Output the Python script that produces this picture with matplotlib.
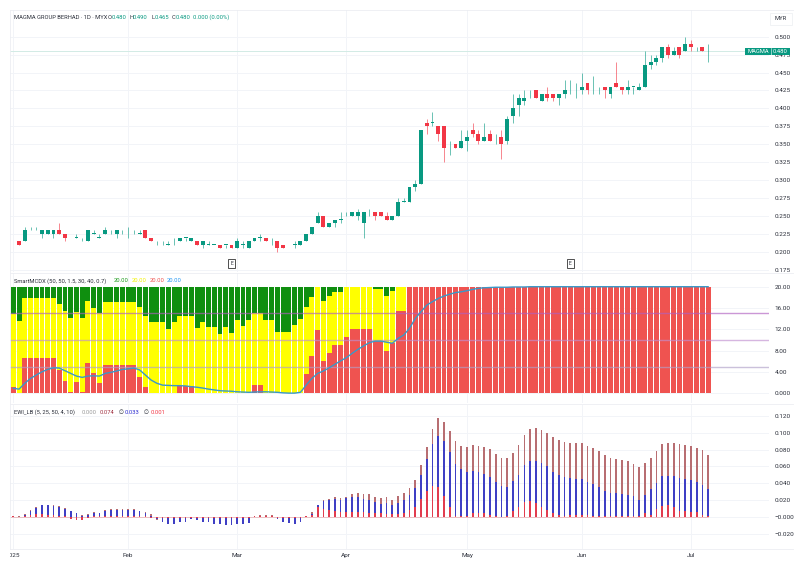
import matplotlib
matplotlib.use('Agg')
import matplotlib.pyplot as plt
from matplotlib.patches import Rectangle
from matplotlib.transforms import Bbox

plt.rcParams['font.family'] = ['Roboto', 'DejaVu Sans']

# === candles ===
opens = [.215,.215,.215,.23,.23,.225,.225,.225,.23,.225,
         .215,.22,.215,.215,.225,.22,.225,.23,.225,.23,
         .23,.23,.225,.23,.22,.215,.215,.21,.215,.215,
         .22,.215,.215,.21,.21,.21,.21,.21,.21,.205,
         .21,.205,.215,.22,.22,.215,.215,.21,.205,.21,
         .21,.215,.225,.24,.25,.235,.24,.245,.25,.25,
         .25,.24,.255,.255,.255,.25,.245,.25,.27,.27,
         .29,.295,.38,.38,.375,.375,.35,.35,.345,.355,
         .37,.365,.355,.365,.36,.36,.355,.39,.405,.41,
         .42,.425,.41,.42,.42,.415,.42,.425,.425,.425,
         .435,.425,.425,.43,.42,.435,.43,.425,.43,.425,
         .43,.46,.465,.47,.485,.475,.485,.48,.49,.485,
         .485,.48]
highs = [.215,.215,.235,.235,.235,.23,.23,.23,.24,.225,
         .215,.225,.22,.23,.23,.225,.235,.23,.23,.23,
         .235,.23,.23,.23,.22,.215,.215,.215,.22,.22,
         .22,.22,.215,.215,.215,.21,.21,.21,.21,.22,
         .215,.215,.22,.225,.22,.22,.215,.21,.205,.215,
         .215,.225,.235,.255,.25,.24,.245,.255,.255,.255,
         .26,.255,.26,.255,.255,.255,.25,.275,.275,.29,
         .30,.37,.385,.395,.375,.375,.355,.35,.37,.37,
         .38,.37,.38,.37,.365,.37,.39,.42,.42,.425,
         .425,.425,.42,.43,.42,.42,.44,.44,.435,.45,
         .435,.445,.43,.43,.43,.465,.43,.44,.43,.435,
         .48,.475,.475,.485,.49,.485,.485,.50,.495,.485,
         .485,.49]
lows = [.215,.21,.215,.23,.23,.22,.225,.22,.225,.215,
        .215,.22,.215,.215,.225,.22,.225,.225,.22,.225,
        .22,.225,.225,.22,.215,.21,.21,.21,.21,.215,
        .215,.215,.21,.205,.21,.21,.205,.205,.205,.205,
        .205,.205,.215,.215,.215,.21,.2,.205,.205,.205,
        .21,.215,.225,.24,.235,.235,.235,.24,.25,.25,
        .245,.22,.25,.245,.25,.245,.245,.25,.27,.27,
        .285,.295,.365,.375,.355,.325,.335,.345,.345,.34,
        .36,.35,.355,.355,.35,.33,.35,.38,.39,.405,
        .415,.415,.41,.41,.41,.405,.415,.42,.415,.42,
        .42,.42,.42,.415,.415,.43,.42,.42,.42,.425,
        .43,.455,.46,.465,.47,.475,.47,.48,.48,.48,
        .48,.465]
closes = [.215,.21,.23,.23,.23,.23,.23,.23,.225,.22,
          .215,.22,.215,.23,.225,.22,.23,.23,.23,.23,
          .23,.23,.225,.22,.215,.215,.215,.21,.215,.22,
          .22,.22,.21,.215,.21,.21,.205,.21,.205,.215,
          .21,.215,.22,.22,.215,.215,.205,.205,.205,.21,
          .215,.225,.235,.25,.235,.24,.245,.245,.25,.255,
          .255,.255,.255,.25,.25,.245,.25,.27,.27,.29,
          .295,.37,.375,.38,.365,.345,.35,.345,.355,.36,
          .365,.355,.36,.355,.36,.35,.385,.40,.415,.415,
          .42,.415,.42,.415,.415,.42,.425,.425,.425,.43,
          .425,.425,.425,.425,.43,.43,.425,.43,.43,.43,
          .46,.465,.47,.485,.475,.48,.475,.49,.485,.485,
          .48,.48]

# === SmartMCDX ===
mcdx_green = [5.1,6.4,2.05,2.05,2.05,2.05,2.05,2.05,3.3,4.55,
              5.95,4.7,5.95,2.7,3.9,5,2.95,2.95,2.95,2.95,
              2.95,2.95,3.75,5.4,6.6,6.6,6.6,7.9,6.6,5.4,
              5.4,5.4,7.75,6.55,7.6,7.6,8.8,7.6,8.6,6.25,
              7.4,6.25,5,5,6.25,6.25,8.5,8.5,8.5,7.2,
              6.05,3.75,1.9,0,2.6,1.7,.95,.95,.1,0,
              0,0,0,.5,.5,1.75,.75,0,0] + [0] * 53
mcdx_red = [1.25,.1,6.7,6.7,6.7,6.7,6.7,6.7,4.4,2.3,
            .25,2.2,.25,5.75,3.75,1.9,5.25,5.25,5.25,5.25,
            5.25,5.25,3.1,1.25,0,0,0,0,0,1.45,
            1.45,1.45,0,0,0,0,0,0,0,0,
            0,0,1.55,1.55,0,0,0,0,0,0,
            0,3.6,7.1,11.9,6.1,7.6,9.1,9.1,10.55,12.05,
            12.05,12.05,12.05,9.8,9.8,7.9,9.5,15.4,15.4] + [20] * 53
mcdx_line = [.95,.8,1.9,2.8,3.45,4.05,4.5,4.8,4.75,4.25,
             3.75,3.25,3,3.25,3.3,3.25,3.75,3.95,4.2,4.5,
             4.6,4.75,4.4,3.45,2.5,1.9,1.55,1.5,1.45,1.45,
             1.4,1.25,1.15,1,.8,.65,.5,.45,.4,.3,
             .25,.2,.25,.3,.3,.25,.2,.1,.05,.05,
             .2,1.55,2.8,3.75,4.2,4.8,5.45,6.1,6.7,7.5,
             8.25,8.9,9.5,9.8,9.8,9.6,9.4,10.3,10.95,12.2,
             14.05,15.3,16.55,17.2,17.8,18.25,18.6,18.9,19.05,19.25,
             19.5,19.7,19.8,19.85,19.9,19.9,19.9,19.95,19.95,19.95] + [20] * 32
mcdx_levels = [15, 10, 5]
mcdx_ticks = [0, 4, 8, 12, 16, 20]
mcdx_tick_labels = ['0.000', '4.00', '8.00', '12.00', '16.00', '20.00']

# === EWI_LB ===
ewi_total = [.002,.001,.004,.009,.012,.015,.015,.014,.013,.011,
             .007,.0055,.003,.0035,.006,.0055,.009,.0095,.0095,.010,
             .01,.0095,.008,.0065,.004,-.003,-.006,-.008,-.008,-.006,
             -.005,-.0025,-.003,-.005,-.006,-.0075,-.008,-.009,-.009,-.008,
             -.0075,-.0065,.002,.003,.003,.003,-.002,-.005,-.007,-.008,
             -.006,.002,.006,.0145,.02,.022,.0235,.0225,.0245,.027,
             .029,.027,.027,.0245,.023,.0235,.021,.025,.0285,.035,
             .0445,.062,.0835,.104,.117,.113,.102,.09,.0845,.0835,
             .0855,.0845,.083,.081,.075,.0705,.0695,.0765,.0855,.097,
             .104,.105,.103,.1,.095,.091,.0895,.088,.0875,.088,
             .084,.0815,.0785,.073,.07,.069,.0675,.0665,.0635,.0595,
             .064,.0705,.078,.0865,.088,.088,.086,.0855,.084,.0815,
             .08,.0735]
ewi_blue = [.001,.0,.003,.008,.011,.014,.014,.013,.012,.01,
            .007,.005,.002,.003,.005,.005,.008,.009,.009,.009,
            .009,.009,.007,.005,.002,-.002,-.005,-.008,-.008,-.006,
            -.005,-.002,-.003,-.005,-.006,-.0075,-.008,-.009,-.009,-.008,
            -.0075,-.0065,.001,.002,.002,.002,-.002,-.005,-.007,-.008,
            -.006,.001,.004,.014,.019,.021,.022,.021,.023,.024,
            .024,.022,.021,.018,.016,.017,.015,.017,.0205,.0265,
            .035,.05,.069,.087,.0965,.09,.0775,.063,.0565,.0535,
            .055,.053,.051,.048,.042,.037,.036,.0425,.0505,.062,
            .067,.067,.064,.06,.0535,.05,.0475,.0465,.045,.045,
            .042,.0395,.036,.0305,.0285,.029,.028,.0265,.025,.021,
            .0265,.0335,.04,.0485,.049,.049,.0465,.045,.0435,.0415,
            .0385,.033]
ewi_red = [.001,.0,.001,.003,.004,.004,.003,.003,.002,.002,
           -.002,-.003,-.003,-.001,.001,.001,.002,.002,.002,.002,
           .002,.002,.001,.001,-.001,-.001,-.001,-.001,-.001,-.001,
           -.001,-.001,-.001,-.001,-.001,-.001,-.001,-.001,-.001,-.001,
           -.001,-.001,.001,.001,.001,.001,-.001,-.001,-.001,-.001,
           -.001,.001,.003,.012,.01,.009,.008,.006,.006,.006,
           .006,.006,.005,.005,.005,.004,.004,.004,.005,.0085,
           .0125,.0215,.0315,.037,.036,.025,.0125,.0015,.001,.001,
           .005,.005,.005,.003,.001,0,.001,.008,.0125,.0185,
           .0195,.017,.012,.0085,.0055,.003,.0015,.003,.003,.003,
           .003,.001,.001,.001,.001,.001,.001,.002,.001,.001,
           .005,.003,.0095,.0135,.0145,.012,.008,.0075,.006,.006,
           .003,.001]
ewi_ticks = [-.02, 0, .02, .04, .06, .08, .10, .12]
ewi_tick_labels = ['\u22120.020', '\u22120.000', '0.020', '0.040', '0.060', '0.080', '0.100', '0.120']

price_ticks = [.175, .2, .225, .25, .275, .3, .325, .35, .375, .4, .425, .45, .475, .5]
month_pos = [0, 20, 39, 58, 79, 99, 118]
month_names = ['2025', 'Feb', 'Mar', 'Apr', 'May', 'Jun', 'Jul']
earnings_pos = [38, 97]
last_price = 0.48

W, H = 797, 564
UP = '#089981'
DOWN = '#f23645'
GRID = '#f2f4f8'
TXT = '#2a2e39'
FS = 4.6
LEG = 4.15
bars = list(range(len(closes)))


def panel(top, bottom, left=10, right=769):
    return fig.add_axes([left / W, 1 - bottom / H, (right - left) / W, (bottom - top) / H])


def label(x, y, s, color=TXT, fs=LEG, **kw):
    fig.text(x / W, 1 - y / H, s, color=color, fontsize=fs, va='center', **kw)


fig = plt.figure(figsize=(W / 100, H / 100), dpi=100, facecolor='white')
ax1 = panel(10, 272)
ax2 = panel(273, 403)
ax3 = panel(405, 549)

for ax in (ax1, ax2, ax3):
    ax.set_xlim(-0.574, 131.6)
    ax.set_xticks(month_pos)
    ax.yaxis.tick_right()
    ax.grid(True, color=GRID, linewidth=0.7)
    ax.set_axisbelow(True)
    ax.tick_params(length=0, labelsize=FS, labelcolor=TXT, pad=4)
    ax.tick_params(axis='x', labelbottom=False)
    for s in ax.spines.values():
        s.set_visible(False)

# === candles ===
ax1.set_ylim(.1719, .5372)
ax1.set_yticks(price_ticks)
ax1.set_yticklabels([f'{p:.3f}' for p in price_ticks])
ax1.axhline(last_price, color='#d2ebe5', linewidth=0.7, zorder=1)
colors = [UP if c >= o else DOWN for o, c in zip(opens, closes)]
ax1.vlines(bars, lows, highs, colors=colors, linewidth=0.6, alpha=0.7, zorder=2)
ax1.bar(bars, [max(abs(c - o), .0006) for o, c in zip(opens, closes)],
        bottom=[min(o, c) for o, c in zip(opens, closes)],
        width=0.68, color=colors, linewidth=0, zorder=3)
for e in earnings_pos:
    ax1.text(e, .1835, 'E', fontsize=3.6, color=TXT, ha='center', va='center', zorder=5,
             bbox=dict(boxstyle='square,pad=0.45', fc='white', ec='#333333', lw=0.6))

# === SmartMCDX ===
ax2.set_ylim(-1.8, 22.57)
ax2.set_yticks(mcdx_ticks)
ax2.set_yticklabels(mcdx_tick_labels)
green_low = [20 - g for g in mcdx_green]
ax2.bar(bars, [g - r for g, r in zip(green_low, mcdx_red)], bottom=mcdx_red, width=0.86,
        color='#ffff00', linewidth=0, zorder=2)
ax2.bar(bars, mcdx_green, bottom=green_low, width=0.86, color='#0f8f0f', linewidth=0, zorder=3)
ax2.bar(bars, mcdx_red, width=0.86, color='#ef5350', linewidth=0, zorder=3)
for lev, col in zip(mcdx_levels, ['#b060c0', '#c090d0', '#b0a0c8']):
    ax2.axhline(lev, color=col, alpha=0.65, linewidth=1.0, zorder=4)
ax2.plot(bars, mcdx_line, color='#3a98c8', linewidth=1.0, zorder=5)

# === EWI_LB ===
ax3.set_ylim(-.0374, .1326)
ax3.set_yticks(ewi_ticks)
ax3.set_yticklabels(ewi_tick_labels)
ax3.set_xticklabels(month_names)
ax3.tick_params(axis='x', labelbottom=True, pad=3)
ax3.bar(bars, ewi_total, width=0.3, color='#b86e72', linewidth=0, zorder=2)
ax3.bar(bars, ewi_blue, width=0.3, color='#3f3fc4', linewidth=0, zorder=3)
ax3.bar(bars, ewi_red, width=0.3, color='#e23b4e', linewidth=0, zorder=4)
ax3.axhline(0, color='#e8b8bc', linewidth=0.6, zorder=1, xmax=0.92)
first_label = ax3.get_xticklabels()[0]
first_label.set_clip_on(True)
first_label.set_clip_box(Bbox([[10, 0], [W, H]]))

# === panel borders ===
for y in (10, 272.5, 404, 549):
    fig.add_artist(plt.Line2D([10 / W, 793 / W], [1 - y / H] * 2, color='#eceef2', linewidth=0.6))
fig.add_artist(plt.Line2D([10 / W, 10 / W], [1 - 10 / H, 1 - 549 / H], color='#eceef2', linewidth=0.6))

# === legends ===
label(13.5, 17.5, 'MAGMA GROUP BERHAD \u00b7 1D \u00b7 MYX')
for x, s, c in [(108, 'O', TXT), (112, '0.480', UP), (129, 'H', TXT), (133, '0.490', UP),
                (151, 'L', TXT), (154.5, '0.465', UP), (172, 'C', TXT), (176, '0.480', UP),
                (193, '0.000 (0.00%)', UP)]:
    label(x, 17.5, s, c)
label(13.5, 280.7, 'SmartMCDX (50, 50, 1.5, 30, 40, 0.7)')
for x, s, c in [(114, '20.00', '#1a9a1a'), (132, '20.00', '#f2f200'), (150, '20.00', '#ef5350'),
                (167, '20.00', '#2196f3')]:
    label(x, 280.7, s, c)
label(14, 412, 'EWI_LB (5, 25, 50, 4, 10)')
for x, s, c in [(82, '0.000', '#999999'), (100, '0.074', '#a03040'), (119, '\u2205', TXT),
                (125, '0.033', '#2a2ad0'), (144, '\u2205', TXT), (151, '0.001', '#f23645')]:
    label(x, 412, s, c)

# === price tag and currency ===
fig.add_artist(Rectangle((745 / W, 1 - 55.2 / H), 44.5 / W, 7.6 / H, transform=fig.transFigure,
                         facecolor=UP, edgecolor='none', zorder=6))
fig.add_artist(plt.Line2D([770.5 / W] * 2, [1 - 55.2 / H, 1 - 47.6 / H], color='white', linewidth=0.4, zorder=7))
label(747, 51.5, 'MAGMA', 'white', zorder=7)
label(773, 51.5, '0.480', 'white', zorder=7)
fig.add_artist(Rectangle((770 / W, 1 - 25 / H), 22 / W, 12 / H, transform=fig.transFigure,
                         facecolor='white', edgecolor='#eceef2', linewidth=0.5, zorder=6))
label(781, 19, 'MYR', ha='center', zorder=7)

fig.savefig('out.png', dpi=100)
